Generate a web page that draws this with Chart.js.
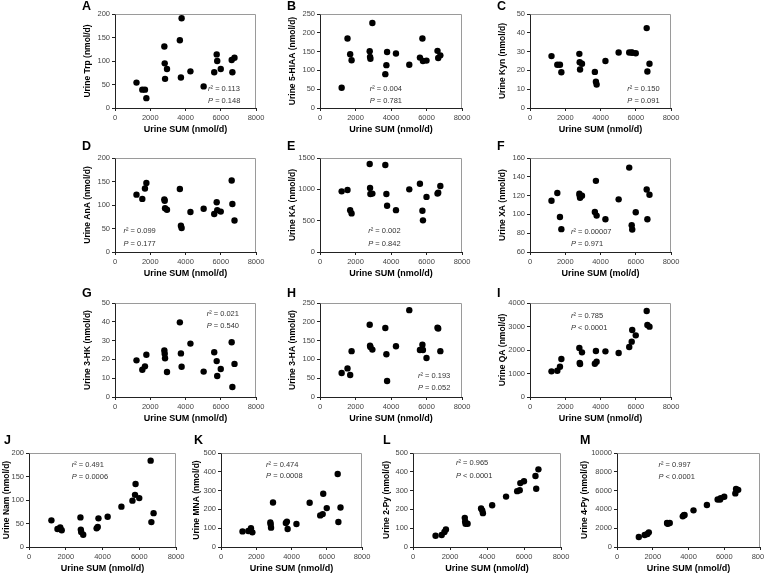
<!DOCTYPE html>
<html lang="en">
<head>
  <meta charset="UTF-8" />
  <title>Urine tryptophan metabolites vs urine SUM</title>
  <script src="https://cdn.jsdelivr.net/npm/chart.js@4"></script>
  <style>
    html, body { margin: 0; padding: 0; background: #fff; }
    #page { position: relative; width: 764px; height: 574px; overflow: hidden; }
    .panel { position: absolute; }
  </style>
</head>
<body>
  <div id="page"></div>

  <script>
    // shared x values: urine SUM (nmol/d), one per subject
    const urineSum = [1220, 1550, 1700, 1780, 2800, 2820, 2840, 2950, 3680, 3740, 3780, 4280, 5030, 5630, 5770, 5800, 6000, 6620, 6660, 6780];
    const sumTicks = [0, 2000, 4000, 6000, 8000];

    // y values per panel, same subject order as urineSum
    const trp  = [54, 39, 39, 21, 131, 95, 62, 83, 144, 65, 191, 78, 46, 76, 114, 100, 83, 102, 76, 107];
    const hiaa = [54, 185, 143, 127, 151, 136, 131, 226, 90, 114, 149, 145, 115, 134, 185, 125, 126, 152, 133, 140];
    const kyn  = [27.6, 23, 23, 19, 28.8, 24.4, 20.5, 23.5, 19.2, 14, 12.5, 25, 29.5, 29.5, 29.6, 29.4, 29.1, 42.5, 19.4, 23.5];
    const ana  = [122, 113, 135, 147, 112, 109, 93, 90, 134, 56, 51, 85, 92, 81, 106, 89, 86, 152, 102, 67];
    const ka   = [968, 989, 668, 616, 1405, 1021, 926, 932, 1389, 926, 737, 668, 1000, 1089, 658, 505, 879, 932, 947, 1053];
    const xa   = [114.6, 122.7, 97.3, 84.3, 122, 120, 117.7, 119.9, 102.6, 135.7, 98.7, 94.9, 116, 149.8, 88.5, 84, 102.3, 126.5, 94.9, 120.9];
    const hk   = [19.5, 14.5, 16.3, 22.5, 24.8, 23, 20.6, 13.3, 39.7, 23.2, 16.1, 28.4, 13.5, 23.8, 19.1, 11.2, 14.9, 29.1, 5.3, 17.6];
    const ha   = [64, 76, 58.5, 122, 192, 136.5, 133, 126, 183.5, 113.5, 42.6, 134.8, 231, 125, 139, 125, 103.7, 184, 182, 122];
    const qa   = [1092, 1120, 1290, 1617, 2085, 1447, 1404, 1900, 1418, 1957, 1503, 1943, 1872, 2128, 2355, 2851, 2624, 3660, 3064, 2993];
    const nam  = [56.7, 38.3, 41.8, 35.5, 63, 37, 32, 26, 39.7, 42.6, 61, 64.5, 85.8, 98.6, 111, 134, 104, 183.7, 53, 72];
    const mna  = [83, 85, 100, 78, 130, 120, 103, 237, 128, 135, 96, 122, 235, 168, 175, 283, 207, 388, 133, 210];
    const py2  = [60, 64, 80, 93, 155, 136, 124, 124, 205, 195, 180, 222, 268, 297, 302, 340, 350, 378, 310, 413];
    const py4  = [1060, 1280, 1380, 1560, 2550, 2520, 2480, 2550, 3260, 3380, 3400, 3900, 4470, 5050, 5050, 5200, 5350, 5700, 6180, 6080];

    // y tick labels per panel
    const ticks200 = [0, 50, 100, 150, 200];
    const ticks250 = [0, 50, 100, 150, 200, 250];
    const ticks50 = [0, 10, 20, 30, 40, 50];
    const ticks1500 = [0, 500, 1000, 1500];
    const ticksXa = [60, 80, 100, 120, 140, 160];
    const ticks4000 = [0, 1000, 2000, 3000, 4000];
    const ticks500 = [0, 100, 200, 300, 400, 500];
    const ticks10000 = [0, 2000, 4000, 6000, 8000, 10000];

    const FONT = '"Liberation Sans", Arial, sans-serif';

    // box = chart area [left, top, right, bottom] on the page
    // gap = [y title centre, letter left, letter dy] relative to the chart area
    const panels = [
      { letter: 'A', y: trp,  yTicks: ticks200,   yTitle: 'Urine Trp (nmol/d)',    r2: '0.113',   p: '= 0.148',  stat: [0.66, 0.80, 0.92], box: [115, 14, 256, 108], gap: [27, 33, -7.5] },
      { letter: 'B', y: hiaa, yTicks: ticks250,   yTitle: 'Urine 5-HIAA (nmol/d)', r2: '0.004',   p: '= 0.781',  stat: [0.35, 0.80, 0.92], box: [320, 14, 462, 108], gap: [27, 33, -7.5] },
      { letter: 'C', y: kyn,  yTicks: ticks50,    yTitle: 'Urine Kyn (nmol/d)',    r2: '0.150',   p: '= 0.091',  stat: [0.69, 0.80, 0.92], box: [530, 14, 671, 108], gap: [27, 33, -7.5] },
      { letter: 'D', y: ana,  yTicks: ticks200,   yTitle: 'Urine AnA (nmol/d)',    r2: '0.099',   p: '= 0.177',  stat: [0.06, 0.78, 0.91], box: [115, 158, 256, 252], gap: [27, 33, -11.5] },
      { letter: 'E', y: ka,   yTicks: ticks1500,  yTitle: 'Urine KA (nmol/d)',     r2: '0.002',   p: '= 0.842',  stat: [0.34, 0.78, 0.91], box: [320, 158, 462, 252], gap: [27, 33, -11.5] },
      { letter: 'F', y: xa,   yTicks: ticksXa,    yTitle: 'Urine XA (nmol/d)',     r2: '0.00007', p: '= 0.971',  stat: [0.29, 0.79, 0.915], box: [530, 158, 671, 252], gap: [27, 33, -11.5], xTitle: 'Urine SUM (mol/d)' },
      { letter: 'G', y: hk,   yTicks: ticks50,    yTitle: 'Urine 3-HK (nmol/d)',   r2: '0.021',   p: '= 0.540',  stat: [0.65, 0.12, 0.245], box: [115, 303, 256, 397], gap: [27, 33, -9] },
      { letter: 'H', y: ha,   yTicks: ticks250,   yTitle: 'Urine 3-HA (nmol/d)',   r2: '0.193',   p: '= 0.052',  stat: [0.69, 0.78, 0.90], box: [320, 303, 462, 397], gap: [27, 33, -9] },
      { letter: 'I', y: qa,   yTicks: ticks4000,  yTitle: 'Urine QA (nmol/d)',     r2: '0.785',   p: '< 0.0001', stat: [0.29, 0.135, 0.26], box: [530, 303, 671, 397], gap: [27, 33, -9] },
      { letter: 'J', y: nam,  yTicks: ticks200,   yTitle: 'Urine Nam (nmol/d)',    r2: '0.491',   p: '= 0.0006', stat: [0.29, 0.13, 0.255], box: [29, 453, 176, 547], gap: [22, 25, -12] },
      { letter: 'K', y: mna,  yTicks: ticks500,   yTitle: 'Urine MNA (nmol/d)',    r2: '0.474',   p: '= 0.0008', stat: [0.32, 0.13, 0.24], box: [221, 453, 362, 547], gap: [24, 27, -12] },
      { letter: 'L', y: py2,  yTicks: ticks500,   yTitle: 'Urine 2-Py (nmol/d)',   r2: '0.965',   p: '< 0.0001', stat: [0.29, 0.11, 0.24], box: [413, 453, 561, 547], gap: [26, 30, -12] },
      { letter: 'M', y: py4,  yTicks: ticks10000, yTitle: 'Urine 4-Py (nmol/d)',   r2: '0.997',   p: '< 0.0001', stat: [0.29, 0.13, 0.25], box: [617, 453, 760, 547], gap: [32, 37, -12] }
    ];

    const PAD_L = 44, PAD_T = 20, PAD_R = 14, PAD_B = 32;
    const Y_TITLE_SIZE = 8.5;

    // gray top/right frame, panel letter, r2 / P text
    const extras = {
      id: 'extras',
      afterDraw(chart, args, o) {
        const { ctx, chartArea: a } = chart;
        ctx.save();
        ctx.strokeStyle = '#9a9a9a';
        ctx.lineWidth = 1;
        const l = Math.round(a.left) + 0.5, t = Math.round(a.top) + 0.5, r = Math.round(a.right) - 0.5;
        const b = Math.round(a.bottom);
        ctx.beginPath();
        ctx.moveTo(l, t); ctx.lineTo(r, t); ctx.lineTo(r, b);
        ctx.stroke();

        ctx.fillStyle = '#000';
        ctx.textBaseline = 'middle';
        ctx.font = 'bold 12.5px ' + FONT;
        ctx.fillText(o.letter, a.left - o.gap[1], a.top + o.gap[2]);

        const sx = a.left + o.stat[0] * a.width;
        const y1 = a.top + o.stat[1] * a.height;
        const y2 = a.top + o.stat[2] * a.height;
        ctx.fillStyle = '#333';
        ctx.font = 'italic 7.5px ' + FONT;
        ctx.fillText('r', sx, y1);
        let w = ctx.measureText('r').width;
        ctx.font = '7.5px ' + FONT;
        ctx.fillText('\u00b2 = ' + o.r2, sx + w, y1);
        ctx.font = 'italic 7.5px ' + FONT;
        ctx.fillText('P', sx, y2);
        w = ctx.measureText('P').width;
        ctx.font = '7.5px ' + FONT;
        ctx.fillText(' ' + o.p, sx + w, y2);
        ctx.restore();
      }
    };

    const page = document.getElementById('page');

    function axisCommon(values) {
      return {
        type: 'linear',
        min: values[0],
        max: values[values.length - 1],
        afterBuildTicks: s => { s.ticks = values.map(v => ({ value: v })); },
        grid: { display: true, drawOnChartArea: false, drawTicks: true, tickLength: 3, color: '#222', lineWidth: 1 },
        border: { display: true, color: '#222', width: 1 },
        ticks: { color: '#444', font: { family: FONT, size: 7.5 }, padding: 2, maxRotation: 0, autoSkip: false, callback: v => String(v) }
      };
    }

    panels.forEach(p => {
      const [L, T, R, B] = p.box;
      const div = document.createElement('div');
      div.className = 'panel';
      div.style.left = (L - PAD_L) + 'px';
      div.style.top = (T - PAD_T) + 'px';
      div.style.width = (R - L + PAD_L + PAD_R) + 'px';
      div.style.height = (B - T + PAD_T + PAD_B) + 'px';
      const canvas = document.createElement('canvas');
      div.appendChild(canvas);
      page.appendChild(div);

      const x = axisCommon(sumTicks);
      x.afterFit = s => { s.height = PAD_B; };
      x.title = { display: true, text: p.xTitle || 'Urine SUM (nmol/d)', color: '#000',
                  font: { family: FONT, size: 9, weight: 'bold' }, padding: { top: 0, bottom: 5 } };

      const y = axisCommon(p.yTicks);
      y.afterFit = s => { s.width = PAD_L; };
      const titleTop = PAD_L - p.gap[0] - Y_TITLE_SIZE * 1.2 / 2;
      y.title = { display: true, text: p.yTitle, color: '#000',
                  font: { family: FONT, size: Y_TITLE_SIZE, weight: 'bold' }, padding: { top: titleTop, bottom: 0 } };

      new Chart(canvas, {
        type: 'scatter',
        data: {
          datasets: [{
            data: urineSum.map((v, i) => ({ x: v, y: p.y[i] })),
            backgroundColor: '#000',
            borderColor: '#000',
            borderWidth: 0,
            pointRadius: 3.2,
            clip: false
          }]
        },
        options: {
          responsive: true,
          maintainAspectRatio: false,
          animation: false,
          layout: { padding: { left: 0, top: PAD_T, right: PAD_R, bottom: 0 } },
          plugins: {
            legend: { display: false },
            tooltip: { enabled: false },
            extras: { letter: p.letter, r2: p.r2, p: p.p, stat: p.stat, gap: p.gap }
          },
          scales: { x, y }
        },
        plugins: [extras]
      });
    });
  </script>
</body>
</html>
